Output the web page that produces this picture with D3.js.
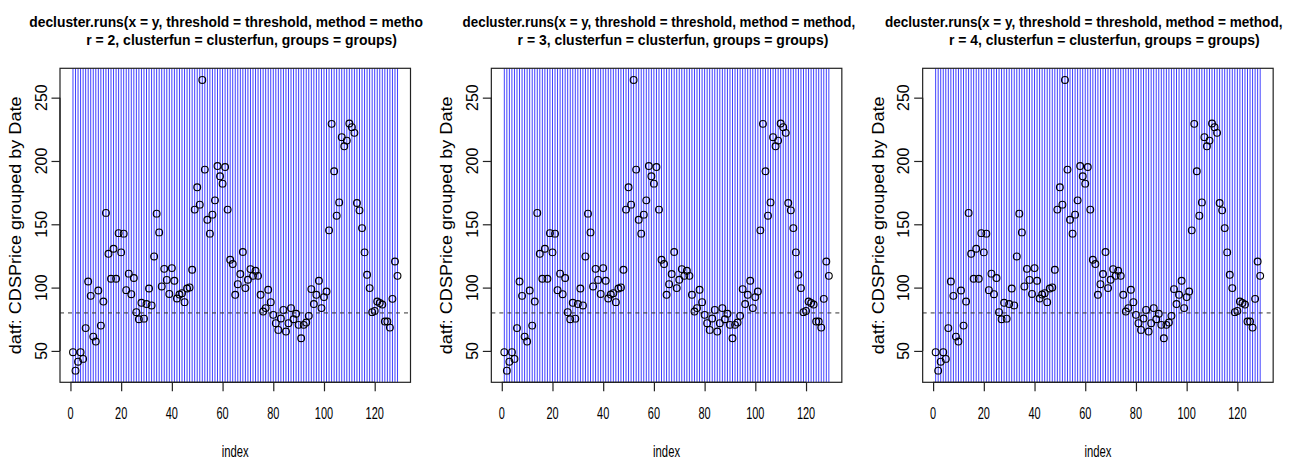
<!DOCTYPE html>
<html>
<head>
<meta charset="utf-8">
<script src="https://cdn.jsdelivr.net/npm/d3@7"></script>
<style>
  html, body { margin: 0; padding: 0; background: #fff; }
  svg { display: block; }
  text { font-family: "Liberation Sans Narrow", "Liberation Sans", Arial, sans-serif; fill: #000; }
</style>
</head>
<body>
<svg id="chart" width="1294" height="463"></svg>
<script>
// CDS price series (one value per index 1..129)
const cdsPrice = [
  49, 34.4, 41.5, 49, 43.7, 68, 104.8, 93.5, 61.3, 57.4,
  97.7, 70, 89, 159, 126.7, 107, 130.7, 107, 143, 127.8,
  142.6, 98, 111, 94.8, 107.6, 80.6, 75, 88, 75.5, 87,
  99.3, 85.9, 124.6, 158.4, 143.6, 100.9, 114.8, 106.1, 95, 115.4,
  105.4, 91.4, 94.5, 95.6, 88.5, 99.3, 100.1, 114.1, 161.6, 179.2,
  165.5, 264, 193.2, 153.6, 142.6, 157.6, 168.9, 196, 187.9, 182.1,
  195.2, 161.6, 122, 118.6, 94.3, 102.7, 110.7, 128.1, 99.6, 106.2,
  114.6, 109.3, 113.3, 109.3, 94.3, 81.1, 83.8, 98.3, 88.5, 78.5,
  71.9, 66.6, 75.6, 82.4, 65.3, 71.9, 83.8, 75, 79.3, 70.6,
  60, 70.6, 72.4, 77.7, 98.8, 87, 94.3, 105.4, 83.8, 92.5,
  96.9, 145.2, 229.3, 191.9, 156.8, 167.3, 218.8, 211.6, 216.1, 229.6,
  226.7, 222.2, 166.8, 161, 147, 127.8, 110.1, 99.6, 80.6, 81.6,
  89, 87.8, 86.6, 73.2, 73.2, 68.4, 91.1, 120.6, 109.3
];
const threshold = 80;
const runLengths = [2, 3, 4];
const xTicks = [0, 20, 40, 60, 80, 100, 120];
const yTicks = [50, 100, 150, 200, 250];
const xLabel = "index";
const yLabel = "datf: CDSPrice grouped by Date";
const titleLine1 = ["decluster.runs(x = y, threshold = threshold, method = metho",
                    "decluster.runs(x = y, threshold = threshold, method = method,",
                    "decluster.runs(x = y, threshold = threshold, method = method,"];
const titleLine2 = r => `r = ${r}, clusterfun = clusterfun, groups = groups)`;

const svg = d3.select("#chart");
const W = 1294, panelW = W / 3;
const plot = { left: 60, right: 410.5, top: 68.3, bottom: 382.3 };
// first title line: [start offset from plot centre, rendered width] per panel
const title1Geom = [[-206, 394], [-204, 393], [-213, 398]];

const idx = d3.range(1, cdsPrice.length + 1);
const points = idx.map((i, k) => ({ i, v: cdsPrice[k] }));

// R-style 4% padding on both axes
function pad(ext) { const d = (ext[1] - ext[0]) * 0.04; return [ext[0] - d, ext[1] + d]; }
const xDom = pad(d3.extent(idx));
const yDom = pad(d3.extent(cdsPrice));

// Place a text so that it spans `width` pixels along its baseline (condensed like the R device font).
// anchor: 0 = start, 0.5 = middle
function fitText(parent, str, x, y, width, opts = {}) {
  const t = parent.append("text").attr("x", 0).attr("y", 0)
    .attr("font-size", opts.size || 16)
    .text(str);
  if (opts.bold) t.attr("font-weight", "bold");
  if (opts.family) t.attr("font-family", opts.family);
  const natural = t.node().getComputedTextLength();
  const s = width / natural;
  const a = opts.anchor || 0;
  const rot = opts.rotate ? ` rotate(${opts.rotate})` : "";
  t.attr("transform", `translate(${x},${y})${rot} scale(${s},1) translate(${-a * natural},0)`);
  return t;
}

runLengths.forEach((r, k) => {
  const ox = k * panelW;
  const g = svg.append("g").attr("transform", `translate(${ox},0)`);

  const x = d3.scaleLinear().domain(xDom).range([plot.left, plot.right]);
  const y = d3.scaleLinear().domain(yDom).range([plot.bottom, plot.top]);
  const cx = (plot.left + plot.right) / 2;
  const cy = (plot.top + plot.bottom) / 2;

  // two-line title
  fitText(g, titleLine1[k], cx + title1Geom[k][0], 27, title1Geom[k][1], { size: 15, bold: true });
  fitText(g, titleLine2(r), cx - 149, 44.5, 311, { size: 15, bold: true });

  // cluster boundary lines at every index
  g.append("g").selectAll("line").data(idx).join("line")
    .attr("x1", d => x(d)).attr("x2", d => x(d))
    .attr("y1", plot.top).attr("y2", plot.bottom)
    .attr("stroke", "#0000ff").attr("stroke-width", 0.75);

  // threshold line
  g.append("line")
    .attr("x1", plot.left).attr("x2", plot.right)
    .attr("y1", y(threshold)).attr("y2", y(threshold))
    .attr("stroke", "#333").attr("stroke-width", 1)
    .attr("stroke-dasharray", "4,4");

  // data points (open circles)
  g.append("g").selectAll("circle").data(points).join("circle")
    .attr("cx", d => x(d.i)).attr("cy", d => y(d.v)).attr("r", 3.4)
    .attr("fill", "none").attr("stroke", "#000").attr("stroke-width", 1.1);

  // plot box
  g.append("rect")
    .attr("x", plot.left).attr("y", plot.top)
    .attr("width", plot.right - plot.left).attr("height", plot.bottom - plot.top)
    .attr("fill", "none").attr("stroke", "#222").attr("stroke-width", 1.2);

  // x axis
  const xa = g.append("g").attr("transform", `translate(0,${plot.bottom})`)
    .call(d3.axisBottom(x).tickValues(xTicks).tickSize(9).tickPadding(0).tickFormat(() => ""));
  xa.select(".domain").attr("d", `M${x(xTicks[0])},0H${x(xTicks[xTicks.length - 1])}`)
    .attr("stroke", "#222").attr("stroke-width", 1.2);
  xa.selectAll(".tick line").attr("stroke", "#222").attr("stroke-width", 1.2);
  const xtg = g.append("g");
  xTicks.forEach(d => fitText(xtg, String(d), x(d), 418.5, String(d).length * 6.1, { anchor: 0.5 }));

  // y axis
  const ya = g.append("g").attr("transform", `translate(${plot.left},0)`)
    .call(d3.axisLeft(y).tickValues(yTicks).tickSize(8.5).tickFormat(() => ""));
  ya.select(".domain").attr("d", `M0,${y(yTicks[0])}V${y(yTicks[yTicks.length - 1])}`)
    .attr("stroke", "#222").attr("stroke-width", 1.2);
  ya.selectAll(".tick line").attr("stroke", "#222").attr("stroke-width", 1.2);
  g.append("g").selectAll("text").data(yTicks).join("text")
    .attr("transform", d => `translate(46.5,${y(d)}) rotate(-90)`)
    .attr("text-anchor", "middle").attr("font-size", 16)
    .attr("font-family", "'Liberation Sans', Arial, sans-serif")
    .text(d => d);

  // axis titles
  fitText(g, xLabel, cx, 457, 27, { anchor: 0.5 });
  fitText(g, yLabel, 21, cy, 258, { anchor: 0.5, rotate: -90, family: "'Liberation Sans', Arial, sans-serif" });
});
</script>
</body>
</html>
